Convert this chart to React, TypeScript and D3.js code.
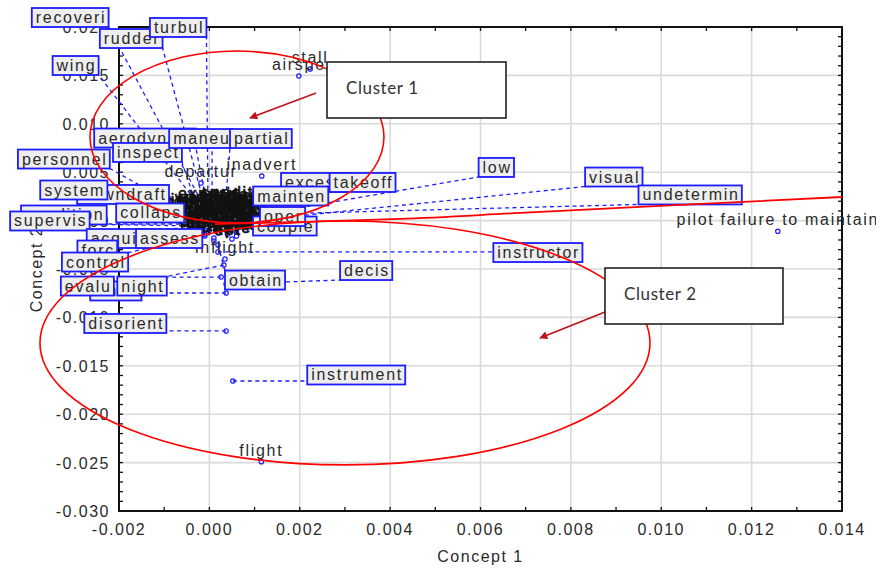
import React from 'react';
import * as d3 from 'd3';

// ---------- axes ----------
const xDomain = [-0.002, 0.014];
const yDomain = [-0.030, 0.020];
const xMajorTicks = [-0.002, 0.0, 0.002, 0.004, 0.006, 0.008, 0.010, 0.012, 0.014];
const yMajorTicks = [-0.030, -0.025, -0.020, -0.015, -0.010, -0.005, 0.0, 0.005, 0.010, 0.015, 0.020];
const xTitle = 'Concept 1';
const yTitle = 'Concept 2';

// ---------- terms shown with a boxed label (point + label position, data units) ----------
const boxedTerms = ['recoveri', 'rudder', 'turbul', 'wing', 'aerodynam', 'inspect', 'maneu', 'partial', 'personnel',
  'downdraft', 'system', 'collaps', 'condition', 'supervis', 'acquis', 'assess', 'excess', 'takeoff', 'mainten',
  'couple', 'oper', 'forc', 'control', 'while', 'evalu', 'night', 'obtain', 'decis', 'instructor', 'low', 'visual',
  'undetermin', 'disorient', 'instrument'];
const boxedX = [-0.0001, -0.00008, -0.00003, -0.00012, -0.00005, -0.00021, 0.00006, 0.00035, -0.00025,
  -0.00016, -0.0003, -0.00021, -0.00025, -0.00032, -0.00021, -0.0001, 0.00057, 0.00063, 0.00068,
  0.00072, 0.00079, -0.00021, -0.0001, 0.00032, 0.00037, 0.00026, 0.00019, 0.00037, 0.00019, 0.00068, 0.00063,
  0.00057, 0.00037, 0.00052];
const boxedY = [0.0013, 0.0011, 0.0009, 0.0009, 0.0016, 0.0006, 0.0021, 0.0016, 0.0003,
  0.0008, 0.0001, -0.00015, -0.00056, -0.00035, -0.00077, -0.00097, 0.0013, 0.0015, 0.0009,
  -0.00035, 0.00027, -0.00118, -0.00159, -0.00459, -0.00748, -0.00583, -0.00252, -0.00655, -0.00324, 0.00027, -0.00015,
  0.00058, -0.0114, -0.01657];
const labelX = [-0.00308, -0.00173, -0.00069, -0.00296, -0.001425, -0.00137, -0.000185, 0.00114, -0.00322,
  -0.00191, -0.0030, -0.00131, -0.00322, -0.00353, -0.00202, -0.00089, 0.00232, 0.00339, 0.0018,
  0.00167, 0.00162, -0.00248, -0.00253, -0.00207, -0.0027, -0.00149, 0.00101, 0.00347, 0.00727, 0.00635, 0.00895,
  0.01064, -0.00186, 0.00325];
const labelY = [0.02098, 0.01881, 0.01995, 0.01602, 0.00853, 0.00704, 0.00848, 0.00848, 0.00636,
  0.0027, 0.00316, 0.00079, 0.00058, -0.00004, -0.00185, -0.00185, 0.00394, 0.00394, 0.00254,
  -0.00056, 0.00042, -0.00304, -0.00428, -0.00727, -0.00676, -0.00676, -0.00614, -0.00516, -0.0033, 0.00549, 0.0045,
  0.00265, -0.01063, -0.01595];

// ---------- terms labelled directly at their point ----------
const plainTerms = ['flight', 'pilot failure to maintain', 'airspe', 'stall', 'departur', 'inadvert', 'inflight'];
const plainX = [0.00115, 0.01258, 0.00198, 0.00223, -0.000185, 0.00116, 0.000346];
const plainY = [-0.0249, -0.0011, 0.01494, 0.01566, 0.00388, 0.00461, -0.00397];

// ---------- crowded terms around the origin ----------
const crowdTerms = ['pilot', 'fail', 'aircraft', 'land', 'runway', 'approach', 'improp', 'inadequ', 'altitud', 'clearanc',
  'terrain', 'fuel', 'engin', 'power', 'loss', 'wind', 'gust', 'crosswind', 'plan', 'weather', 'condit', 'factor',
  'result', 'student', 'flare', 'touchdown', 'direct', 'ground', 'object', 'preflight', 'procedur', 'checklist', 'lack',
  'experi', 'proficien', 'avoid', 'abrupt', 'taxi', 'mixtur', 'tree'];
const crowdX = [0.0002, 0.0005, 0.0001, 0.0003, 0.0, 0.0004, -0.0002, 0.0006, -0.0001, 0.0005,
  0.0002, 0.0008, -0.0003, 0.0007, 0.0001, 0.0006, -0.0002, 0.0003, 0.0009, 0.0, 0.0004, -0.0001,
  0.0007, 0.0002, 0.0005, 0.0001, 0.0008, -0.0003, 0.0004, 0.0, 0.0006, 0.0002, 0.0009,
  -0.0001, 0.0003, 0.0006, 0.0001, 0.001, -0.0004, 0.0008];
const crowdY = [0.0014, 0.0008, 0.0002, -0.0004, -0.001, -0.0014, 0.001, 0.0015, 0.0005, 0.0,
  -0.0007, 0.0005, -0.0001, -0.0006, -0.0018, -0.0012, -0.0009, 0.0006, -0.0002, 0.0012, 0.0017, -0.0014,
  0.0011, 0.0, -0.0019, 0.0008, -0.001, 0.0007, 0.0003, -0.0002, -0.0004, -0.0013, 0.0009,
  0.0016, 0.0012, -0.0016, -0.0021, -0.0007, -0.0005, 0.0014];

// ---------- cluster annotations (data units) ----------
const clusterNames = ['Cluster 1', 'Cluster 2'];
const clusterCx = [0.000611, 0.003001];
const clusterCy = [0.00864, -0.01264];
const clusterRx = [0.003253, 0.00675];
const clusterRy = [0.00888, 0.0126];
const noteX0 = [0.002603, 0.008755];
const noteX1 = [0.006564, 0.012694];
const noteY0 = [0.016384, -0.004897];
const noteY1 = [0.0106, -0.010683];
const arrowFromX = [0.00236, 0.008755];
const arrowFromY = [0.013182, -0.009442];
const arrowToX = [0.000899, 0.007317];
const arrowToY = [0.0106, -0.012128];
const boundaryX = [0.000124, 0.002116, 0.004219, 0.006874, 0.00953, 0.014];
const boundaryY = [-0.00035, -0.00014, 0.00017, 0.00079, 0.00141, 0.00244];

const FONT = "'Liberation Sans', Arial, sans-serif";
const LS = 1.7;
const TXT = '#2a2a2a';
const BLUE = '#1c1cff';

let ctx: CanvasRenderingContext2D | null = null;
function textW(t: string, size = 16, ls = LS) {
  if (!ctx) ctx = document.createElement('canvas').getContext('2d');
  if (!ctx) return t.length * 8;
  ctx.font = `${size}px 'Liberation Sans', Arial, sans-serif`;
  return ctx.measureText(t).width + ls * (t.length - 1);
}

export default function App() {
  const W = 876, H = 570;
  const x = d3.scaleLinear().domain(xDomain).range([119, 842]);
  const y = d3.scaleLinear().domain(yDomain).range([511, 27]);
  const [x0, x1] = x.range();
  const [y0, y1] = y.range();
  const xMinor = x.ticks(16);
  const yMinor = y.ticks(50);

  const boxes = boxedTerms.map((t, i) => {
    const w = textW(t) + 8;
    const cx = x(labelX[i]);
    const cy = y(labelY[i]);
    const left = cx - w / 2, top = cy - 9.5;
    const px = x(boxedX[i]), py = y(boxedY[i]);
    const ex = Math.max(left, Math.min(left + w, px));
    const ey = Math.max(top, Math.min(top + 19, py));
    return { t, w, left, top, px, py, ex, ey };
  });

  const boundary = d3.line<number>().x((d) => x(boundaryX[d])).y((d) => y(boundaryY[d])).curve(d3.curveMonotoneX)(
    boundaryX.map((_, i) => i)
  );

  return (
    <svg width={W} height={H} style={{ position: 'absolute', left: 0, top: 0, background: '#fff' }} fontFamily={FONT}>
      <defs>
        <marker id="ah" viewBox="0 0 10 10" refX="9" refY="5" markerWidth="9" markerHeight="8" orient="auto" markerUnits="userSpaceOnUse">
          <path d="M0,0 L10,5 L0,10 z" fill="#c0141c" />
        </marker>
      </defs>
      <rect x={0} y={0} width={W} height={H} fill="#fff" />
      {/* grid */}
      {xMajorTicks.map((v) => (
        <line key={'gx' + v} x1={x(v)} x2={x(v)} y1={y1} y2={y0} stroke="#dadada" strokeWidth={1.6} />
      ))}
      {yMajorTicks.map((v) => (
        <line key={'gy' + v} x1={x0} x2={x1} y1={y(v)} y2={y(v)} stroke="#dadada" strokeWidth={1.6} />
      ))}
      {/* minor ticks */}
      {xMinor.map((v, i) => (
        <g key={'tx' + i}>
          <line x1={x(v)} x2={x(v)} y1={y0} y2={y0 - 4} stroke="#111" strokeWidth={1.3} />
          <line x1={x(v)} x2={x(v)} y1={y1} y2={y1 + 4} stroke="#111" strokeWidth={1.3} />
        </g>
      ))}
      {yMinor.map((v, i) => (
        <g key={'ty' + i}>
          <line x1={x0} x2={x0 + 4} y1={y(v)} y2={y(v)} stroke="#111" strokeWidth={1.3} />
          <line x1={x1} x2={x1 - 4} y1={y(v)} y2={y(v)} stroke="#111" strokeWidth={1.3} />
        </g>
      ))}
      <rect x={x0} y={y1} width={x1 - x0} height={y0 - y1} fill="none" stroke="#111" strokeWidth={2} />
      {/* tick labels */}
      {xMajorTicks.map((v) => (
        <text key={'lx' + v} x={x(v)} y={535} textAnchor="middle" fontSize={16} fill={TXT} style={{ letterSpacing: '1.5px' }}>
          {v.toFixed(3)}
        </text>
      ))}
      {yMajorTicks.map((v) => (
        <text key={'ly' + v} x={110} y={y(v) + 6} textAnchor="end" fontSize={16} fill={TXT} style={{ letterSpacing: '1.5px' }}>
          {v.toFixed(3)}
        </text>
      ))}
      <text x={(x0 + x1) / 2} y={562} textAnchor="middle" fontSize={16} fill={TXT} style={{ letterSpacing: '1.5px' }}>
        {xTitle}
      </text>
      <text transform={`translate(42,${(y0 + y1) / 2}) rotate(-90)`} textAnchor="middle" fontSize={16} fill={TXT} style={{ letterSpacing: '1.5px' }}>
        {yTitle}
      </text>
      {/* leader lines */}
      {boxes.map((b, i) => (
        <line key={'ll' + i} x1={b.px} y1={b.py} x2={b.ex} y2={b.ey} stroke={BLUE} strokeWidth={1.3} strokeDasharray="4,3.5" />
      ))}
      {/* points */}
      {[...boxes.map((b) => [b.px, b.py]), ...plainTerms.map((_, i) => [x(plainX[i]), y(plainY[i])]), ...crowdTerms.map((_, i) => [x(crowdX[i]), y(crowdY[i])])].map(
        (p, i) => (
          <circle key={'pt' + i} cx={p[0]} cy={p[1]} r={2.2} fill="none" stroke={BLUE} strokeWidth={1.2} />
        )
      )}
      {/* crowded labels */}
      {crowdTerms.map((t, i) => (
        <text key={'ct' + i} x={x(crowdX[i])} y={y(crowdY[i]) - 6} textAnchor="middle" fontSize={16} fill="#111" stroke="#111" strokeWidth={0.6} style={{ letterSpacing: LS + 'px' }}>
          {t}
        </text>
      ))}
      {plainTerms.map((t, i) => (
        <text key={'pl' + i} x={x(plainX[i])} y={y(plainY[i]) - 6} textAnchor="middle" fontSize={16} fill={TXT} style={{ letterSpacing: LS + 'px' }}>
          {t}
        </text>
      ))}
      {/* boxed labels */}
      {boxes.map((b, i) => (
        <g key={'bx' + i}>
          <rect x={b.left} y={b.top} width={b.w} height={19} fill="#eeeeee" stroke={BLUE} strokeWidth={1.8} />
          <text x={b.left + 4} y={b.top + 15} fontSize={16} fill={TXT} style={{ letterSpacing: LS + 'px' }}>
            {b.t}
          </text>
        </g>
      ))}
      {/* cluster outlines */}
      {clusterNames.map((c, i) => (
        <ellipse key={'el' + i} cx={x(clusterCx[i])} cy={y(clusterCy[i])} rx={x(clusterCx[i] + clusterRx[i]) - x(clusterCx[i])}
          ry={y(clusterCy[i] - clusterRy[i]) - y(clusterCy[i])} fill="none" stroke="#ff0000" strokeWidth={1.6} />
      ))}
      <path d={boundary || ''} fill="none" stroke="#ff0000" strokeWidth={1.8} />
      {/* notes */}
      {clusterNames.map((c, i) => (
        <g key={'nt' + i}>
          <line x1={x(arrowFromX[i])} y1={y(arrowFromY[i])} x2={x(arrowToX[i])} y2={y(arrowToY[i])} stroke="#c0141c" strokeWidth={1.6} markerEnd="url(#ah)" />
          <rect x={x(noteX0[i])} y={y(noteY0[i])} width={x(noteX1[i]) - x(noteX0[i])} height={y(noteY1[i]) - y(noteY0[i])} fill="#fff" stroke="#222" strokeWidth={1.6} />
          <text x={x(noteX0[i]) + 19} y={y(noteY0[i]) + 32} fontSize={17} fontFamily="Lato, 'Open Sans', sans-serif" fill="#333" style={{ letterSpacing: '0.6px' }}>
            {c}
          </text>
        </g>
      ))}
    </svg>
  );
}
